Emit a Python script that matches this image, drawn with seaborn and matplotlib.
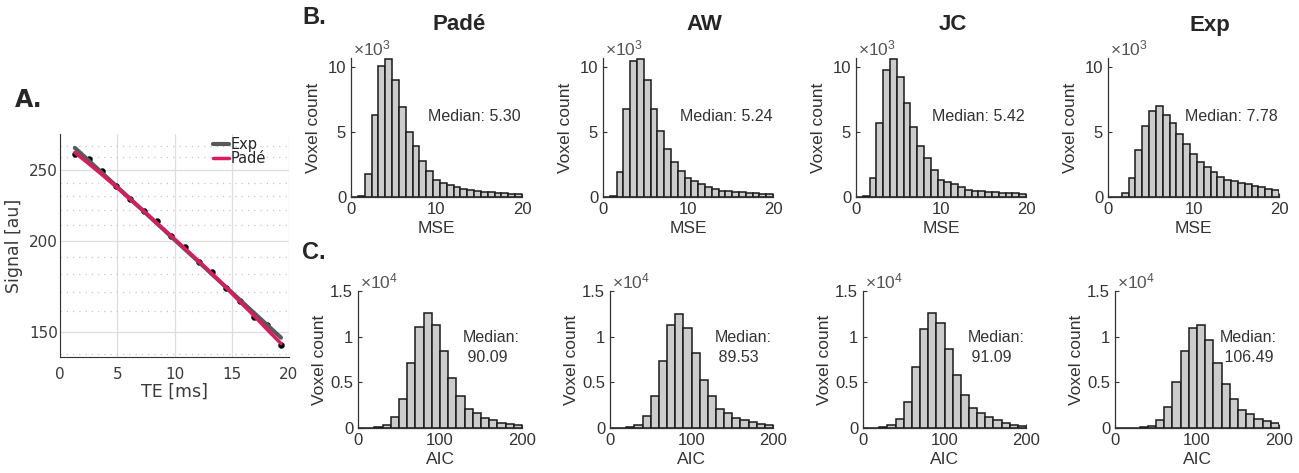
import numpy as np
import pandas as pd
import matplotlib
matplotlib.use("Agg")
import matplotlib.pyplot as plt
import seaborn as sns
from matplotlib.ticker import FixedLocator, FixedFormatter, NullFormatter

# ---- panel A: one voxel, signal vs echo time ----
TE_MS = [1.3, 2.5, 3.7, 4.9, 6.1, 7.3, 8.5, 9.7, 10.9, 12.1, 13.3, 14.5, 15.7, 16.9, 18.1, 19.3]
SIGNAL = [263, 259, 249, 237.3, 228.2, 219.5, 213, 203, 196, 187, 181, 172, 165.5, 157, 153, 144]
FIT_EXP = [268, 257.5, 247.4, 237.7, 228.4, 219.5, 210.9, 202.6, 194.7, 187.1, 179.7, 172.7, 165.9, 159.4, 153.2, 147.2]
FIT_PADE = [264, 255, 246, 237, 228, 219.5, 211, 203, 195, 187.5, 180, 172.5, 165, 158, 151, 144.5]

# ---- panels B/C: histograms over voxels ----
MODELS = ["Padé", "AW", "JC", "Exp"]

MSE_BIN_WIDTH = 0.8   # 25 bins on [0, 20]
AIC_BIN_WIDTH = 10    # 20 bins on [0, 200]

MSE_PADE = [0, 100, 1800, 6300, 10100, 10600, 9000, 6900, 5000, 3900, 2800, 2000, 1330,
            1100, 950, 770, 640, 560, 480, 420, 370, 330, 290, 260, 230]
MSE_AW = [0, 100, 1900, 6800, 10500, 10600, 9000, 6800, 5100, 3700, 2700, 2000, 1500,
          1200, 1000, 760, 600, 500, 430, 380, 350, 330, 300, 250, 200]
MSE_JC = [0, 100, 1500, 5700, 9800, 10600, 9200, 7200, 5400, 3950, 3000, 2100, 1330,
          1150, 1000, 770, 560, 480, 460, 380, 360, 330, 300, 280, 250]
MSE_EXP = [0, 20, 300, 1450, 3600, 5500, 6600, 7000, 6300, 5660, 4850, 4050, 3300,
           2730, 2300, 1900, 1530, 1330, 1200, 1070, 1000, 870, 740, 610, 510]

AIC_PADE = [0, 50, 100, 300, 1200, 3200, 7100, 11100, 12600, 11300,
            8400, 5500, 3500, 2100, 1600, 1100, 840, 550, 440, 300]
AIC_AW = [0, 50, 100, 360, 1270, 3500, 7300, 11300, 12450, 11000,
          8200, 5300, 3500, 2100, 1600, 1100, 840, 620, 440, 300]
AIC_JC = [0, 50, 100, 300, 1000, 2900, 6700, 10850, 12600, 11500,
          8600, 5750, 3600, 2200, 1600, 1200, 840, 550, 360, 250]
AIC_EXP = [0, 0, 50, 100, 250, 870, 2350, 5060, 8400, 11000,
           11300, 9600, 7100, 4770, 3140, 2000, 1500, 1000, 800, 540]

MSE_MEDIAN = ["5.30", "5.24", "5.42", "7.78"]
AIC_MEDIAN = ["90.09", "89.53", "91.09", "106.49"]

mse_counts = dict(zip(MODELS, [MSE_PADE, MSE_AW, MSE_JC, MSE_EXP]))
aic_counts = dict(zip(MODELS, [AIC_PADE, AIC_AW, AIC_JC, AIC_EXP]))

sns.set_style("white")
plt.rcParams["font.family"] = ["Liberation Sans", "DejaVu Sans"]
plt.rcParams["mathtext.fontset"] = "custom"
plt.rcParams["mathtext.rm"] = "Liberation Sans"
plt.rcParams["mathtext.it"] = "Liberation Sans:italic"

W, H = 1299, 473
fig = plt.figure(figsize=(W / 100, H / 100), dpi=100)


def px_axes(left, top, right, bottom):
    return fig.add_axes([left / W, 1 - bottom / H, (right - left) / W, (bottom - top) / H])


TXT = "#333333"
DV = "DejaVu Sans"

# ---- A. ----
axA = px_axes(60, 134, 289, 357)
# points go under the fitted curves, as in the original
sns.scatterplot(x=TE_MS, y=SIGNAL, color="black", s=18, edgecolor=None, ax=axA)
sns.lineplot(x=TE_MS, y=FIT_EXP, color="#595959", lw=3, label="Exp", ax=axA)
sns.lineplot(x=TE_MS, y=FIT_PADE, color="#dc1a5c", lw=2.5, label="Padé", ax=axA)
axA.set_yscale("log")
axA.set_xlim(0, 20)
axA.set_ylim(138.5, 280)
axA.yaxis.set_major_locator(FixedLocator([150, 200, 250]))
axA.yaxis.set_major_formatter(FixedFormatter(["150", "200", "250"]))
axA.yaxis.set_minor_locator(FixedLocator([140, 160, 170, 180, 190, 210, 220, 230, 240, 260, 270]))
axA.yaxis.set_minor_formatter(NullFormatter())
axA.set_xticks([0, 5, 10, 15, 20])
axA.grid(which="major", color="#dedede", lw=0.9)
axA.yaxis.grid(which="minor", color="#c4c4c4", lw=0.9, ls=(0, (1, 4)))
axA.set_axisbelow(True)
for s in ["top", "right"]:
    axA.spines[s].set_visible(False)
for s in ["left", "bottom"]:
    axA.spines[s].set_color("#333333")
axA.tick_params(which="both", direction="in", length=3, color="#333333",
                labelsize=11, labelcolor="#3a3a3a")
axA.tick_params(axis="x", pad=7)
axA.tick_params(axis="y", pad=1.5)
axA.tick_params(which="minor", length=1.5)
for lab in axA.get_xticklabels() + axA.get_yticklabels():
    lab.set_fontfamily(DV)
axA.set_xlabel("TE [ms]", fontsize=12.5, family=DV, color="#3a3a3a", labelpad=1)
axA.set_ylabel("Signal [au]", fontsize=12.5, family=DV, color="#3a3a3a", labelpad=4)
axA.legend(loc="upper right", bbox_to_anchor=(0.93, 1.02), frameon=False,
           prop={"family": DV, "size": 10.5}, handlelength=1.1, handletextpad=0.1,
           labelspacing=-0.05, borderaxespad=0.1)
fig.text(15 / W, 1 - 100 / H, "A.", fontsize=17, fontweight="bold", family=DV,
         va="center", ha="left")

# ---- B. / C. ----
RIGHT = [522, 773, 1026, 1279]
B_LEFT = [351, 603, 856, 1108]
C_LEFT = [358, 610, 863, 1115]
TITLE_X = [459, 704, 953, 1210]


def style_hist(ax):
    for s in ["top", "right"]:
        ax.spines[s].set_visible(False)
    for s in ["left", "bottom"]:
        ax.spines[s].set_color(TXT)
        ax.spines[s].set_linewidth(0.9)
    ax.tick_params(direction="in", length=3, color=TXT, labelsize=12,
                   labelcolor=TXT, pad=3.5, left=True, bottom=True)


def binned(counts, width):
    # one row per bin, at the bin centre, weighted by the bin count
    return pd.DataFrame({"x": [(k + 0.5) * width for k in range(len(counts))],
                         "n": counts})


for i, model in enumerate(MODELS):
    axB = px_axes(B_LEFT[i], 58, RIGHT[i], 197)
    sns.histplot(data=binned(mse_counts[model], MSE_BIN_WIDTH), x="x", weights="n",
                 binwidth=MSE_BIN_WIDTH, binrange=(0, 20),
                 color="#cccccc", edgecolor="#1a1a1a", linewidth=1.1, alpha=1, ax=axB)
    axB.set_xlim(0, 20)
    axB.set_ylim(0, 10700)
    axB.set_xticks([0, 10, 20])
    axB.set_yticks([0, 5000, 10000])
    axB.set_yticklabels(["0", "5", "10"])
    style_hist(axB)
    axB.set_xlabel("MSE", fontsize=12.5, color=TXT, labelpad=3)
    axB.set_ylabel("Voxel count", fontsize=12.5, color=TXT, labelpad=5)
    axB.text(0.01, 1.0, r"$\times10^{3}$", transform=axB.transAxes, fontsize=12.5,
             color="#555555", va="bottom", ha="left")
    axB.text(9.0, 6200, f"Median: {MSE_MEDIAN[i]}", fontsize=11.5, color=TXT,
             va="center", ha="left")
    fig.text(TITLE_X[i] / W, 1 - 25 / H, model, fontsize=16, fontweight="bold",
             ha="center", va="center")

    axC = px_axes(C_LEFT[i], 291, RIGHT[i], 428)
    sns.histplot(data=binned(aic_counts[model], AIC_BIN_WIDTH), x="x", weights="n",
                 binwidth=AIC_BIN_WIDTH, binrange=(0, 200),
                 color="#cccccc", edgecolor="#1a1a1a", linewidth=1.1, alpha=1, ax=axC)
    axC.set_xlim(0, 200)
    axC.set_ylim(0, 15000)
    axC.set_xticks([0, 100, 200])
    axC.set_yticks([0, 5000, 10000, 15000])
    axC.set_yticklabels(["0", "0.5", "1", "1.5"])
    style_hist(axC)
    axC.set_xlabel("AIC", fontsize=12.5, color=TXT, labelpad=3)
    axC.set_ylabel("Voxel count", fontsize=12.5, color=TXT, labelpad=2)
    axC.text(0.01, 1.0, r"$\times10^{4}$", transform=axC.transAxes, fontsize=12.5,
             color="#555555", va="bottom", ha="left")
    axC.text(128, 8800, f"Median:\n {AIC_MEDIAN[i]}", fontsize=11.5, color=TXT,
             va="center", ha="left", linespacing=1.4)

fig.text(302 / W, 1 - 18 / H, "B.", fontsize=17, fontweight="bold", va="center", ha="left")
fig.text(302 / W, 1 - 252 / H, "C.", fontsize=17, fontweight="bold", va="center", ha="left")

fig.savefig("out.png", dpi=100, facecolor="white")
